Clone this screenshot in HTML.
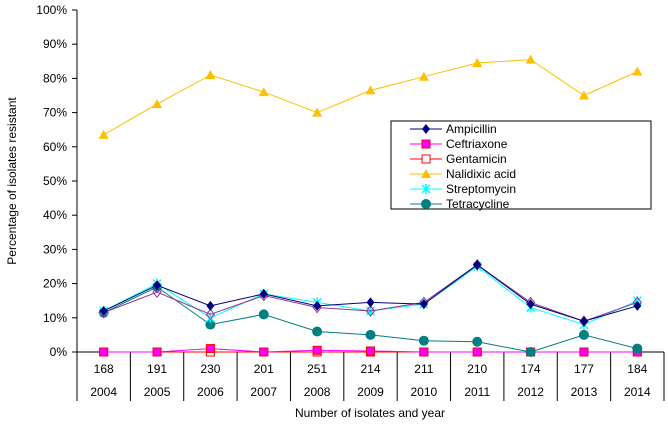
<!DOCTYPE html>
<html><head><meta charset="utf-8"><style>
body{margin:0;background:#fff;font-family:"Liberation Sans",Arial,sans-serif}
svg text{font-family:"Liberation Sans",Arial,sans-serif;font-size:12px;fill:#000}
</style></head><body>
<svg id="c" width="668" height="422"></svg>
<script>
const years=["2004","2005","2006","2007","2008","2009","2010","2011","2012","2013","2014"];
const isolates=["168","191","230","201","251","214","211","210","174","177","184"];
const yTicks=[0,10,20,30,40,50,60,70,80,90,100];
const ampicillin=[12,19.5,13.5,17,13.5,14.5,14,25.5,14,9,13.5];
const ceftriaxone=[0,0,1,0,0.5,0.3,0,0,0,0,0];
const gentamicin=[0,0,0,0,0,0,0,0,0,0,0];
const nalidixic=[63.5,72.5,81,76,70,76.5,80.5,84.5,85.5,75,82];
const streptomycin=[12,20,10,17,14.5,12,14,25,13,8,15];
const tetracycline=[11.5,19,8,11,6,5,3.3,3,0,5,1];
const other=[11.5,17.5,11,16.5,13,12,14.5,25.5,14.5,9,14.5];
const NS="http://www.w3.org/2000/svg",svg=document.getElementById('c');
const L=77,R=664,T=10,B=352,n=years.length,cw=(R-L)/n;
const x=i=>L+cw*(i+0.5), y=v=>B-(B-T)*v/100;
function el(t,a,p){const e=document.createElementNS(NS,t);for(const k in a)e.setAttribute(k,a[k]);(p||svg).appendChild(e);return e;}
yTicks.forEach(v=>{const t=el('text',{x:L-10,y:y(v)+4,'text-anchor':'end'});t.textContent=v+'%';


el('line',{x1:L-5,x2:L,y1:y(v),y2:y(v),stroke:'#000'});});
el('line',{x1:L,x2:L,y1:T,y2:B,stroke:'#000'});
el('line',{x1:L,x2:R,y1:B,y2:B,stroke:'#000'});
for(let i=0;i<=n;i++)el('line',{x1:L+cw*i,x2:L+cw*i,y1:B,y2:401,stroke:'#000'});
years.forEach((yr,i)=>{const a=el('text',{x:x(i),y:373,'text-anchor':'middle'});a.textContent=isolates[i];


const b=el('text',{x:x(i),y:396,'text-anchor':'middle'});b.textContent=yr;

});
const xt=el('text',{x:370,y:417,'text-anchor':'middle'});xt.textContent='Number of isolates and year';


const yt=el('text',{x:16,y:181,'text-anchor':'middle',transform:'rotate(-90 16 181)'});yt.textContent='Percentage of isolates resistant';


function marker(type,cx,cy,c,g){
 if(type==='diamond')el('polygon',{points:`${cx},${cy-5} ${cx+4},${cy} ${cx},${cy+5} ${cx-4},${cy}`,fill:c},g);
 else if(type==='odiamond')el('polygon',{points:`${cx},${cy-5} ${cx+4},${cy} ${cx},${cy+5} ${cx-4},${cy}`,fill:'none',stroke:c},g);
 else if(type==='square')el('rect',{x:cx-4,y:cy-4,width:8,height:8,fill:'#f0f',stroke:'#f00'},g);
 else if(type==='osquare')el('rect',{x:cx-4,y:cy-4,width:8,height:8,fill:'#fff',stroke:c},g);
 else if(type==='tri')el('polygon',{points:`${cx},${cy-5} ${cx+5},${cy+4} ${cx-5},${cy+4}`,fill:c},g);
 else if(type==='star'){el('path',{d:`M${cx-4} ${cy-4}L${cx+4} ${cy+4}M${cx+4} ${cy-4}L${cx-4} ${cy+4}M${cx} ${cy-5}V${cy+5}`,stroke:c,'stroke-width':1.5},g);}
 else if(type==='circle')el('circle',{cx,cy,r:5,fill:c},g);
}
const series=[
 ['nalidixic-acid',nalidixic,'#ffc000','tri'],
 ['gentamicin',gentamicin,'#ff0000','osquare'],
 ['ceftriaxone',ceftriaxone,'#ff00ff','square'],
 ['tetracycline',tetracycline,'#008080','circle'],
 ['streptomycin',streptomycin,'#00ffff','star'],
 ['other-series',other,'#993399','odiamond'],
 ['ampicillin',ampicillin,'#000080','diamond']];
series.forEach(([nm,d,c,m])=>{const g=el('g',{});


el('polyline',{points:d.map((v,i)=>x(i)+','+y(v)).join(' '),fill:'none',stroke:c,'stroke-width':1},g);
d.forEach((v,i)=>marker(m,x(i),y(v),c,g));});
const lg=el('g',{});


el('rect',{x:391,y:121,width:260,height:88,fill:'#fff',stroke:'#000'},lg);
const leg=[['Ampicillin','#000080','diamond'],['Ceftriaxone','#ff00ff','square'],['Gentamicin','#ff0000','osquare'],['Nalidixic acid','#ffc000','tri'],['Streptomycin','#00ffff','star'],['Tetracycline','#008080','circle']];
leg.forEach(([t,c,m],i)=>{const yy=129+i*15;const g=el('g',{},lg);


el('line',{x1:410,x2:442,y1:yy,y2:yy,stroke:c},g);marker(m,426,yy,c,g);
const tx=el('text',{x:446,y:yy+4},g);tx.textContent=t;});
</script>
</body></html>
